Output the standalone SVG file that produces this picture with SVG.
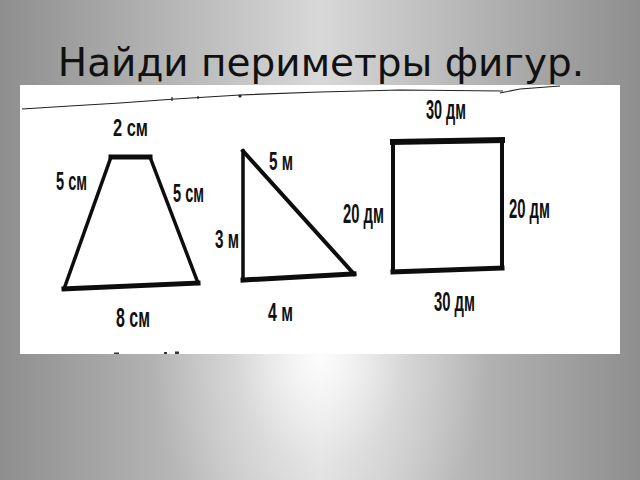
<svg xmlns="http://www.w3.org/2000/svg" width="640" height="480" viewBox="0 0 640 480">
  <defs>
    <linearGradient id="bgH" x1="0" y1="0" x2="1" y2="0">
      <stop offset="0" stop-color="#8e8e8e"/>
      <stop offset="0.5" stop-color="#d8d8d8"/>
      <stop offset="1" stop-color="#8e8e8e"/>
    </linearGradient>
    <radialGradient id="spot" gradientUnits="userSpaceOnUse" cx="320" cy="355" r="170" gradientTransform="translate(320 355) scale(1 1.3) translate(-320 -355)">
      <stop offset="0" stop-color="#ffffff" stop-opacity="0.95"/>
      <stop offset="0.5" stop-color="#ffffff" stop-opacity="0.3"/>
      <stop offset="1" stop-color="#ffffff" stop-opacity="0"/>
    </radialGradient>
    <style>
      .title { font-family: "DejaVu Sans", "Noto Sans", sans-serif; font-size: 39px; fill: #111111; }
      .lbl { font-family: "Liberation Sans", Arial, sans-serif; font-weight: bold; fill: #111111; }
      .edge { stroke: #0d0d0d; fill: none; stroke-linecap: square; stroke-linejoin: miter; }
      .scan { stroke: #222222; fill: none; stroke-width: 1.2; }
    </style>
  </defs>

  <rect x="0" y="0" width="640" height="480" fill="url(#bgH)"/>
  <rect x="0" y="0" width="640" height="480" fill="url(#spot)"/>

  <text class="title" x="321" y="76" text-anchor="middle">Найди периметры фигур.</text>

  <g id="panel">
    <rect x="20" y="85" width="600" height="269" fill="#ffffff"/>
    <polyline class="scan" points="22,109 70,106 120,103 175,99 240,95 320,92 400,90 503,91"/>
    <polyline class="scan" points="500,93 520,89 560,86"/>
    <line class="scan" x1="172" y1="97" x2="172" y2="101"/>
    <line class="scan" x1="198" y1="96" x2="198" y2="99"/>
    <circle cx="240" cy="96" r="1.6" fill="#222"/>
    <rect x="114" y="352.5" width="5" height="1.5" fill="#333"/>
    <rect x="164" y="352" width="3" height="2" fill="#333"/>
    <rect x="175" y="351.5" width="4" height="2.5" fill="#333"/>
  </g>

  <g id="trapezoid">
    <line class="edge" x1="111" y1="157" x2="150" y2="157" stroke-width="5"/>
    <line class="edge" x1="150" y1="157" x2="198" y2="283" stroke-width="3.5"/>
    <line class="edge" x1="198" y1="283" x2="64" y2="289" stroke-width="5"/>
    <line class="edge" x1="64" y1="289" x2="111" y2="157" stroke-width="3.5"/>
    <text class="lbl" x="113" y="136" font-size="24" textLength="35" lengthAdjust="spacingAndGlyphs">2 см</text>
    <text class="lbl" x="56" y="190" font-size="26" textLength="31" lengthAdjust="spacingAndGlyphs">5 см</text>
    <text class="lbl" x="173" y="202" font-size="26" textLength="31" lengthAdjust="spacingAndGlyphs">5 см</text>
    <text class="lbl" x="116" y="327" font-size="27" textLength="34" lengthAdjust="spacingAndGlyphs">8 см</text>
  </g>

  <g id="triangle">
    <line class="edge" x1="243" y1="151" x2="243" y2="280" stroke-width="3.5"/>
    <line class="edge" x1="243" y1="280" x2="354" y2="274" stroke-width="5"/>
    <line class="edge" x1="354" y1="274" x2="243" y2="151" stroke-width="4"/>
    <text class="lbl" x="269" y="170" font-size="25" textLength="24" lengthAdjust="spacingAndGlyphs">5 м</text>
    <text class="lbl" x="215" y="248" font-size="26" textLength="24" lengthAdjust="spacingAndGlyphs">3 м</text>
    <text class="lbl" x="268" y="321" font-size="26" textLength="25" lengthAdjust="spacingAndGlyphs">4 м</text>
  </g>

  <g id="rectangle">
    <line class="edge" x1="393" y1="142" x2="502" y2="140" stroke-width="6"/>
    <line class="edge" x1="502" y1="140" x2="502" y2="268" stroke-width="4"/>
    <line class="edge" x1="502" y1="268" x2="393" y2="272" stroke-width="5"/>
    <line class="edge" x1="393" y1="272" x2="393" y2="142" stroke-width="4"/>
    <text class="lbl" x="426" y="119" font-size="27" textLength="40" lengthAdjust="spacingAndGlyphs">30 дм</text>
    <text class="lbl" x="343" y="223" font-size="27" textLength="41" lengthAdjust="spacingAndGlyphs">20 дм</text>
    <text class="lbl" x="509" y="218" font-size="27" textLength="41" lengthAdjust="spacingAndGlyphs">20 дм</text>
    <text class="lbl" x="434" y="311" font-size="27" textLength="41" lengthAdjust="spacingAndGlyphs">30 дм</text>
  </g>
</svg>
